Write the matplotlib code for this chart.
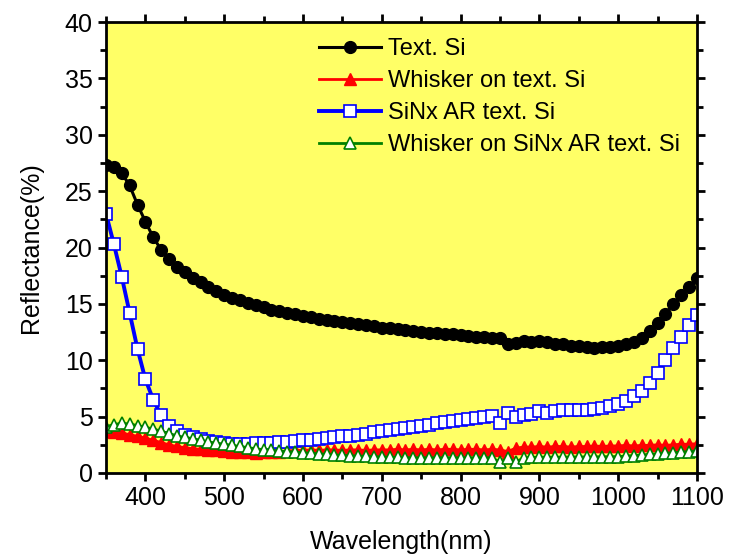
import numpy as np
import matplotlib

matplotlib.use("Agg")

import matplotlib.pyplot as plt
from matplotlib.ticker import MultipleLocator

plt.rcParams["font.family"] = ["Liberation Sans", "DejaVu Sans"]

# wavelength grid (nm), 10 nm steps
wavelength = np.arange(350, 1101, 10)

text_si = [
    27.3, 27.1, 26.6, 25.5, 23.8, 22.3, 20.9, 19.8, 19.0, 18.3,
    17.8, 17.3, 16.9, 16.5, 16.1, 15.8, 15.5, 15.3, 15.1, 14.9,
    14.7, 14.5, 14.4, 14.2, 14.1, 13.9, 13.8, 13.7, 13.6, 13.5,
    13.4, 13.3, 13.2, 13.1, 13.0, 12.9, 12.85, 12.75, 12.7, 12.6,
    12.5, 12.45, 12.4, 12.3, 12.3, 12.2, 12.15, 12.1, 12.1, 12.0,
    12.0, 11.4, 11.5, 11.7, 11.6, 11.7, 11.6, 11.4, 11.4, 11.3,
    11.3, 11.2, 11.1, 11.15, 11.2, 11.3, 11.4, 11.6, 12.0, 12.6,
    13.3, 14.1, 15.0, 15.8, 16.5, 17.3,
]

whisker_text_si = [
    3.7, 3.65, 3.55, 3.4, 3.25, 3.1, 2.9, 2.7, 2.5, 2.35,
    2.25, 2.15, 2.1, 2.05, 2.0, 1.95, 1.9, 1.85, 1.82, 1.8,
    1.82, 1.85, 1.9, 1.95, 2.0, 2.0, 2.05, 2.0, 2.05, 2.05,
    2.0, 2.05, 2.05, 2.0, 2.05, 2.05, 2.05, 2.1, 2.05, 2.1,
    2.05, 2.1, 2.05, 2.1, 2.1, 2.05, 2.1, 2.1, 2.05, 2.1,
    2.05, 1.9, 2.2, 2.3, 2.3, 2.35, 2.3, 2.35, 2.35, 2.3,
    2.35, 2.35, 2.4, 2.35, 2.4, 2.4, 2.45, 2.4, 2.45, 2.45,
    2.5, 2.45, 2.5, 2.55, 2.55, 2.6,
]

sinx_text_si = [
    23.0, 20.3, 17.4, 14.2, 11.0, 8.3, 6.5, 5.1, 4.2, 3.7,
    3.4, 3.2, 3.0, 2.85, 2.75, 2.65, 2.6, 2.6, 2.6, 2.62,
    2.65, 2.68, 2.72, 2.78, 2.85, 2.9, 2.95, 3.0, 3.08, 3.15,
    3.25, 3.32, 3.4, 3.5, 3.6, 3.68, 3.78, 3.9, 4.0, 4.1,
    4.2, 4.3, 4.4, 4.5, 4.6, 4.7, 4.78, 4.85, 4.95, 5.05,
    4.4, 5.3, 5.0, 5.15, 5.2, 5.5, 5.35, 5.5, 5.55, 5.55,
    5.55, 5.6, 5.65, 5.8, 5.9, 6.1, 6.4, 6.8, 7.3, 8.0,
    8.9, 10.0, 11.1, 12.1, 13.1, 14.0,
]

whisker_sinx_si = [
    4.1, 4.3, 4.4, 4.35, 4.2, 4.05, 3.9, 3.7, 3.5, 3.3,
    3.15, 3.05, 2.9, 2.75, 2.65, 2.55, 2.45, 2.35, 2.25, 2.15,
    2.07, 2.0, 1.95, 1.9, 1.85, 1.8, 1.75, 1.7, 1.65, 1.6,
    1.57, 1.53, 1.5, 1.48, 1.45, 1.42, 1.4, 1.38, 1.36, 1.35,
    1.35, 1.35, 1.35, 1.35, 1.35, 1.35, 1.35, 1.35, 1.35, 1.35,
    0.95, 1.3, 0.95, 1.35, 1.38, 1.4, 1.4, 1.4, 1.4, 1.42,
    1.42, 1.42, 1.43, 1.44, 1.45, 1.45, 1.5, 1.55, 1.6, 1.65,
    1.7, 1.75, 1.8, 1.85, 1.9, 1.95,
]

series_labels = [
    "Text. Si",
    "Whisker on text. Si",
    "SiNx AR text. Si",
    "Whisker on SiNx AR text. Si",
]

fig = plt.figure(figsize=(7.29, 5.56), dpi=100)
ax = fig.add_axes([0.1454, 0.1493, 0.8106, 0.8111])
ax.set_facecolor("#ffff66")

ax.plot(wavelength, text_si, color="black", linewidth=2.2, marker="o",
        markersize=8.5, markerfacecolor="black", markeredgecolor="black",
        label=series_labels[0])
ax.plot(wavelength, whisker_text_si, color="red", linewidth=2, marker="^",
        markersize=8.5, markerfacecolor="red", markeredgecolor="red",
        label=series_labels[1])
ax.plot(wavelength, sinx_text_si, color="blue", linewidth=2.8, marker="s",
        markersize=8, markerfacecolor="white", markeredgecolor="blue",
        markeredgewidth=1.2, label=series_labels[2])
ax.plot(wavelength, whisker_sinx_si, color="green", linewidth=2, marker="^",
        markersize=8.5, markerfacecolor="white", markeredgecolor="green",
        markeredgewidth=1.2, label=series_labels[3])

ax.set_xlim(350, 1100)
ax.set_ylim(0, 40)
ax.xaxis.set_major_locator(MultipleLocator(100))
ax.xaxis.set_minor_locator(MultipleLocator(50))
ax.yaxis.set_major_locator(MultipleLocator(5))
ax.yaxis.set_minor_locator(MultipleLocator(2.5))

ax.tick_params(which="both", direction="out", top=True, right=True,
               width=2, labelsize=18)
ax.tick_params(which="major", length=6)
ax.tick_params(which="minor", length=4)
for spine in ax.spines.values():
    spine.set_linewidth(2)

ax.set_xlabel("Wavelength(nm)", fontsize=18, labelpad=14)
ax.set_ylabel("Reflectance(%)", fontsize=18, labelpad=16)

ax.legend(loc="upper left", bbox_to_anchor=(0.345, 0.985), frameon=False,
          fontsize=17, handlelength=2.6, handletextpad=0.3,
          labelspacing=0.42, borderaxespad=0)

fig.savefig("out.png", dpi=100)
